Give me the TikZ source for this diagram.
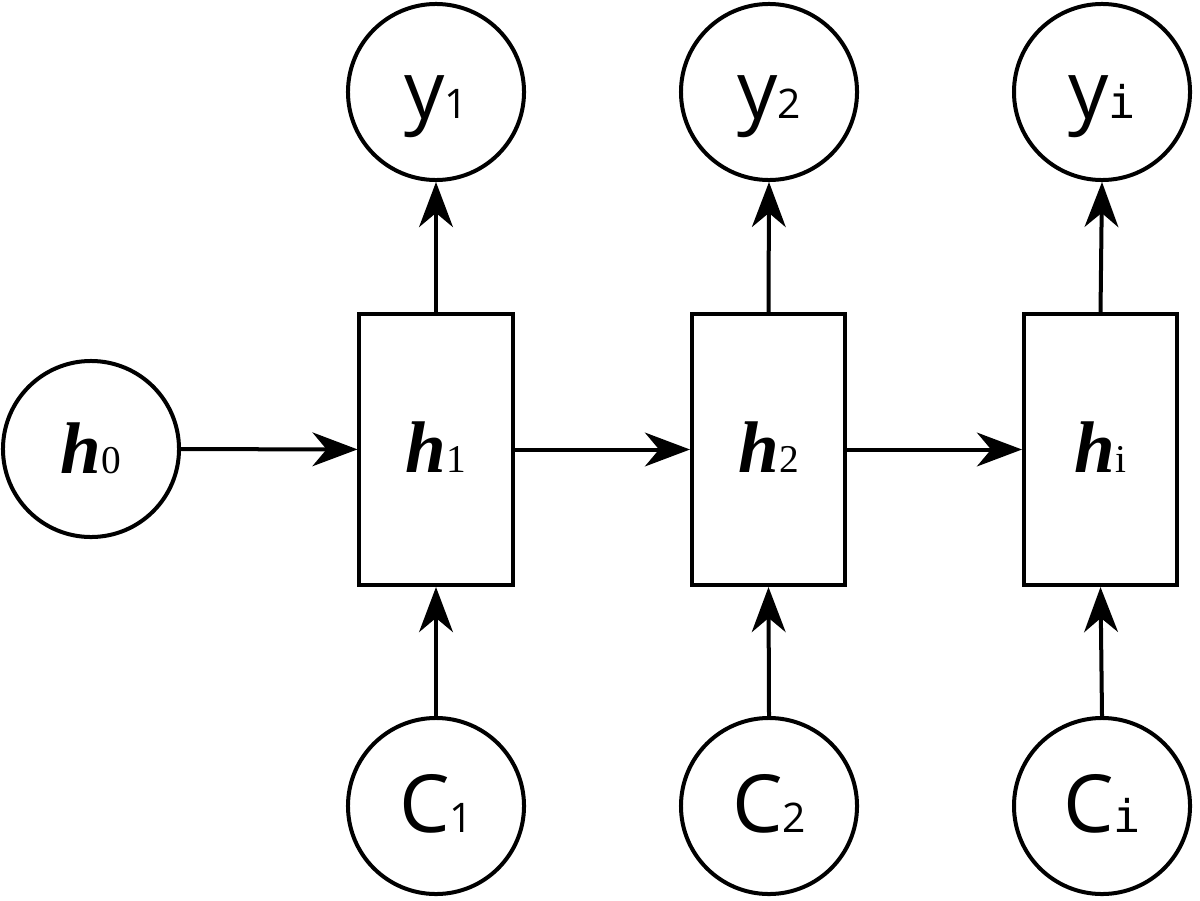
\documentclass[tikz,border=0pt]{standalone}
\usepackage{fontspec}
\usepackage{tikz}
\usetikzlibrary{arrows.meta}
\setmainfont{Liberation Serif}
\newfontfamily\serifont{Liberation Serif}
\newfontfamily\labelfont{Open Sans}
\newfontfamily\monofont{DejaVu Sans Mono}
\newcommand{\hname}[1]{{\serifont\bfseries\itshape\fontsize{52}{60}\selectfont h}{\serifont\fontsize{28}{30}\selectfont #1}}
\newcommand{\sname}[2]{{\labelfont\fontsize{57}{60}\selectfont #1}{\labelfont\fontsize{29}{30}\selectfont #2}}
\newcommand{\mi}{{\monofont\fontsize{32}{32}\selectfont i}}

\begin{document}
\begin{tikzpicture}[x=0.025cm, y=-0.025cm, line width=0.1cm,
    state/.style={circle, draw, minimum size=4.4cm, inner sep=0pt, text height=1.3cm, text depth=0pt},
    cell/.style={rectangle, draw, minimum width=3.825cm, minimum height=6.775cm, inner sep=0pt, text height=1.15cm, text depth=0pt},
    link/.style={-{Stealth[length=32pt, width=24pt, inset=10pt]}}]
\useasboundingbox (0,0) rectangle (1200,900);
% Draw initial state
\node[state, text height=1.2cm] (h0) at (91,449) {\hname{0}};
% Draw cells, outputs and inputs
\node[cell] (h1) at (436,449.5) {\hname{1}};
\node[cell] (h2) at (768.5,449.5) {\hname{2}};
\node[cell] (h3) at (1100.5,449.5) {\hname{i}};
\node[state] (y1) at (436,92) {\sname{y}{1}};
\node[state] (y2) at (769,92) {\sname{y}{2}};
\node[state] (y3) at (1102,92) {\sname{y}{\mi}};
\node[state] (c1) at (436,806) {\sname{C}{1}};
\node[state] (c2) at (769,806) {\sname{C}{2}};
\node[state] (c3) at (1102,806) {\sname{C}{\mi}};
% Draw arrows
\draw[link] (h0) -- (h1);
\draw[link] (h1) -- (h2);
\draw[link] (h2) -- (h3);
\foreach \n in {1,2,3} {
    \draw[link] (h\n.north) -- (y\n.south);
    \draw[link] (c\n.north) -- (h\n.south);
}
\end{tikzpicture}
\end{document}
